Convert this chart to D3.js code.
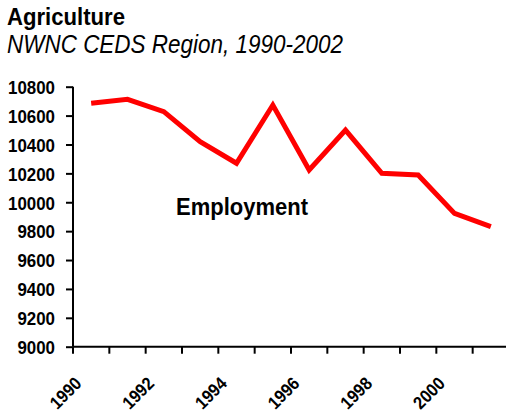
<!DOCTYPE html>
<html><head><meta charset="utf-8">
<script src="https://cdn.jsdelivr.net/npm/d3@7"></script>
<style>
body{margin:0;background:#fff;}
svg{display:block;}
text{font-family:"Liberation Sans",Arial,sans-serif;}
</style></head>
<body><svg id="c" width="506" height="412"></svg>
<script>
const years = ["1990","1991","1992","1993","1994","1995","1996","1997","1998","1999","2000","2001"];
const employment = [10685,10713,10627,10419,10270,10673,10223,10500,10200,10189,9923,9831];
const yTicks = [9000,9200,9400,9600,9800,10000,10200,10400,10600,10800];
const xLabels = ["1990","1992","1994","1996","1998","2000"];

const svg = d3.select("#c");
const mLeft = 73, mRight = 509, mTop = 86.7, mBottom = 346.7;
const sx = 0.89;

const x = d3.scaleBand().domain(years).range([mLeft, mRight]);
const y = d3.scaleLinear().domain([9000,10800]).range([mBottom, mTop]);

svg.append("text").attr("x",7).attr("y",25).attr("font-size",24).attr("font-weight","bold")
  .attr("textLength",118).attr("lengthAdjust","spacingAndGlyphs").text("Agriculture");
svg.append("text").attr("x",7).attr("y",53).attr("font-size",25).attr("font-style","italic")
  .attr("textLength",336).attr("lengthAdjust","spacingAndGlyphs").text("NWNC CEDS Region, 1990-2002");

// y axis
const ya = svg.append("g").attr("transform",`translate(${mLeft},0)`)
  .call(d3.axisLeft(y).tickValues(yTicks).tickSize(7).tickPadding(10).tickFormat(d3.format("d")));
ya.select(".domain").attr("stroke","#000").attr("stroke-width",2).attr("d",`M0,${mTop}V${mBottom}`);
ya.selectAll(".tick line").attr("stroke","#000").attr("stroke-width",2);
ya.selectAll(".tick text").attr("font-size",19).attr("font-weight","bold").attr("fill","#000")
  .attr("font-family",'"Liberation Sans",Arial,sans-serif')
  .attr("x",-18/sx).attr("dy","0.36em").attr("transform",`scale(${sx},1)`);

// x axis: ticks at band boundaries
const xa = svg.append("g").attr("transform",`translate(0,${mBottom})`);
xa.append("line").attr("x1",mLeft).attr("x2",506).attr("y1",0).attr("y2",0).attr("stroke","#000").attr("stroke-width",2);
xa.selectAll("line.tk").data(years).enter().append("line").attr("class","tk")
  .attr("x1",d=>x(d)).attr("x2",d=>x(d)).attr("y1",0).attr("y2",7).attr("stroke","#000").attr("stroke-width",2);
xa.selectAll("text").data(xLabels).enter().append("text")
  .attr("transform",d=>`translate(${x(d)+x.bandwidth()/2-8.5},38) rotate(-45) scale(0.9,1)`)
  .attr("text-anchor","end").attr("font-size",18).attr("font-weight","bold").text(d=>d);

// line
const line = d3.line().x((d,i)=>x(years[i])+x.bandwidth()/2).y(d=>y(d));
svg.append("path").datum(employment).attr("d",line).attr("fill","none").attr("stroke","#ff0000")
  .attr("stroke-width",5).attr("stroke-linejoin","miter");

svg.append("text").attr("x",176).attr("y",215).attr("font-size",24).attr("font-weight","bold")
  .attr("textLength",132).attr("lengthAdjust","spacingAndGlyphs").text("Employment");
</script></body></html>
